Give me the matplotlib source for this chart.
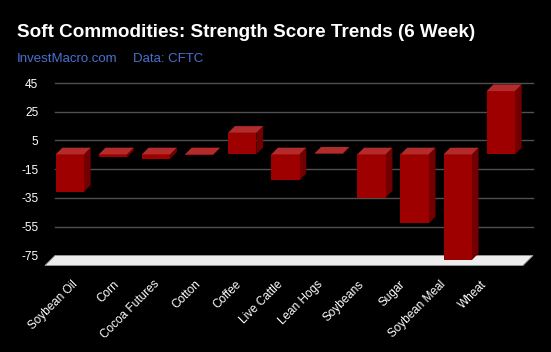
import matplotlib
matplotlib.use("Agg")
import matplotlib.pyplot as plt
from matplotlib.patches import Polygon
import numpy as np

# ---- data ----
categories = ["Soybean Oil", "Corn", "Cocoa Futures", "Cotton", "Coffee",
              "Live Cattle", "Lean Hogs", "Soybeans", "Sugar", "Soybean Meal", "Wheat"]
scores = [-26, -2, -3, -0.5, 15, -18, 0.5, -30, -48, -73.5, 44]
yticks = [45, 25, 5, -15, -35, -55, -75]
title = "Soft Commodities: Strength Score Trends (6 Week)"
sub1 = "InvestMacro.com"
sub2 = "Data: CFTC"

W, H, DPI = 551, 352, 100
fig = plt.figure(figsize=(W / DPI, H / DPI), dpi=DPI, facecolor="black")
plt.rcParams["font.family"] = ["Liberation Sans", "DejaVu Sans"]

ax = fig.add_axes([40 / W, 1 - 270 / H, 500 / W, 195 / H])
ax.set_facecolor("black")
ax.set_xlim(-0.848, 10.753)
ax.set_ylim(-85.1, 50.57)
for s in ax.spines.values():
    s.set_visible(False)

# pixel scale helpers
fig.canvas.draw()
p0 = ax.transData.transform((0, 0))
p1 = ax.transData.transform((1, 1))
px_per_cat = p1[0] - p0[0]
px_per_unit = p1[1] - p0[1]

bar_depth_px = 6.7
floor_depth_px = 10.0
dx = bar_depth_px / px_per_cat
dy = bar_depth_px / px_per_unit
fdx = floor_depth_px / px_per_cat
fdy = floor_depth_px / px_per_unit

n = len(categories)
x_left = -0.5
x_right = 10.59
floor_v = yticks[-1]

# gridlines on back wall
for v in yticks[:-1]:
    ax.plot([x_left, x_right], [v, v], color="#505050", lw=1.0, zorder=1)

# floor
floor = Polygon([(x_left, floor_v), (x_right, floor_v),
                 (x_right - fdx, floor_v - fdy), (x_left - fdx, floor_v - fdy)],
                closed=True, facecolor="#ededed", edgecolor="#9a9a9a", lw=0.6, zorder=2)
ax.add_patch(floor)

# 3D bars
w = 0.657
front_c = "#9e0000"
top_c = "#b32b2b"
side_c = "#730000"
for i, v in enumerate(scores):
    x0, x1 = i - w / 2, i + w / 2
    top, bot = max(v, 0), min(v, 0)
    front = [(x0 - dx, bot - dy), (x1 - dx, bot - dy), (x1 - dx, top - dy), (x0 - dx, top - dy)]
    topf = [(x0 - dx, top - dy), (x1 - dx, top - dy), (x1, top), (x0, top)]
    side = [(x1 - dx, bot - dy), (x1, bot), (x1, top), (x1 - dx, top - dy)]
    ax.add_patch(Polygon(side, closed=True, facecolor=side_c, edgecolor="none", zorder=3))
    ax.add_patch(Polygon(front, closed=True, facecolor=front_c, edgecolor="none", zorder=4))
    ax.add_patch(Polygon(topf, closed=True, facecolor=top_c, edgecolor="none", zorder=4))

# y ticks
ax.set_yticks(yticks)
ax.set_yticklabels([str(t) for t in yticks])
ax.tick_params(axis="y", length=0, pad=1.3, labelsize=8.6, labelcolor="white")

# x tick labels (rotated)
label_pos = [-0.11 + 0.949 * i for i in range(n)]
ax.set_xticks(label_pos)
ax.set_xticklabels(categories, rotation=45, ha="right", rotation_mode="anchor")
ax.tick_params(axis="x", length=0, pad=6.0, labelsize=8.5, labelcolor="white")

# titles
fig.text(17 / W, 1 - 36.7 / H, title, color="white", fontsize=13.6,
         fontweight="bold", va="baseline", ha="left")
fig.text(17 / W, 1 - 62.3 / H, sub1, color="#4a70d0", fontsize=9.5, va="baseline", ha="left")
fig.text(133.3 / W, 1 - 62.3 / H, sub2, color="#4a70d0", fontsize=9.5, va="baseline", ha="left")

fig.savefig("out.png", dpi=DPI, facecolor="black")
